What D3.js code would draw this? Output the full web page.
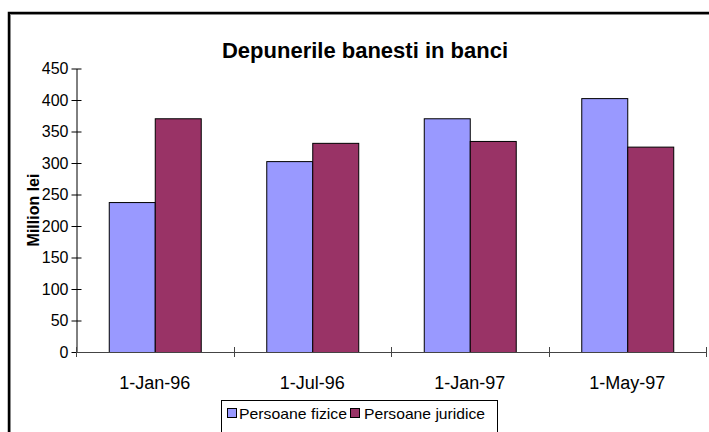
<!DOCTYPE html>
<html><head><meta charset="utf-8">
<script src="https://cdn.jsdelivr.net/npm/d3@7"></script>
<style>body{margin:0;background:#fff}svg{display:block;font-family:Arial,"Liberation Sans",sans-serif}</style>
</head><body>
<svg id="c" width="709" height="432"></svg>
<script>
const categories = ["1-Jan-96","1-Jul-96","1-Jan-97","1-May-97"];
const seriesNames = ["Persoane fizice","Persoane juridice"];
const fizice = [238, 303, 371, 403];
const juridice = [371, 332, 335, 326];
const yTicks = [0,50,100,150,200,250,300,350,400,450];
const colors = ["#9999ff","#993366"];

const svg = d3.select("#c");
// frame
svg.append("path").attr("d","M9,440 V13 H720").attr("fill","none").attr("stroke","#000").attr("stroke-width",2.5);
svg.append("path").attr("d","M10.5,440 V14.5 H720").attr("fill","none").attr("stroke","#888").attr("stroke-width",1);

const pLeft=76, pRight=706, pTop=68.5, pBottom=352;
const x = d3.scaleBand().domain(categories).range([pLeft,pRight]).paddingInner(0.416).paddingOuter(0.208);
const xs = d3.scaleBand().domain(seriesNames).range([0,x.bandwidth()]);
const y = d3.scaleLinear().domain([0,450]).range([pBottom,pTop]);

const data = categories.map((c,i)=>({c, v:[fizice[i], juridice[i]]}));
const g = svg.append("g");
data.forEach(d=>{
  seriesNames.forEach((s,j)=>{
    g.append("rect")
      .attr("x", x(d.c)+xs(s)+0.5)
      .attr("y", y(d.v[j])+0.5)
      .attr("width", xs.bandwidth())
      .attr("height", y(0)-y(d.v[j]))
      .attr("fill", colors[j]).attr("stroke","#000").attr("stroke-width",1);
  });
});

// y axis
const ya = svg.append("g").attr("transform",`translate(${pLeft+0.5},0)`)
  .call(d3.axisLeft(y).tickValues(yTicks).tickSize(5).tickSizeOuter(0).tickPadding(3));
ya.select(".domain").attr("stroke","#000");
ya.selectAll(".tick line").attr("x1",-5).attr("x2",5).attr("stroke","#000");
ya.selectAll(".tick text").attr("font-size",16).attr("font-family","Arial, 'Liberation Sans', sans-serif").attr("fill","#000");

// x axis
const step = x.step();
const xb = [0,1,2,3,4].map(i=>pLeft+i*step);
svg.append("line").attr("x1",pLeft).attr("x2",pRight).attr("y1",pBottom+0.5).attr("y2",pBottom+0.5).attr("stroke","#444");
svg.selectAll(".xt").data(xb).enter().append("line")
  .attr("x1",d=>Math.round(d)+0.5).attr("x2",d=>Math.round(d)+0.5)
  .attr("y1",pBottom-5).attr("y2",pBottom+5).attr("stroke","#444");
svg.selectAll(".xl").data(categories).enter().append("text")
  .attr("x",d=>x(d)+x.bandwidth()/2).attr("y",pBottom+37)
  .attr("text-anchor","middle").attr("font-size",18).text(d=>d);

// title
svg.append("text").attr("x",365).attr("y",58).attr("text-anchor","middle")
  .attr("font-size",22).attr("font-weight","bold").text("Depunerile banesti in banci");
// y label
svg.append("text").attr("transform","translate(39,210) rotate(-90)").attr("text-anchor","middle")
  .attr("font-size",16).attr("font-weight","bold").text("Million lei");

// legend
const lg = svg.append("g");
lg.append("rect").attr("x",221.5).attr("y",400.5).attr("width",276).attr("height",40).attr("fill","#fff").attr("stroke","#000");
const items = [{n:seriesNames[0],sx:227,tx:239,w:108},{n:seriesNames[1],sx:350,tx:364,w:121}];
items.forEach((it,j)=>{
  lg.append("rect").attr("x",it.sx+0.5).attr("y",408.5).attr("width",9).attr("height",9).attr("fill",colors[j]).attr("stroke","#000");
  lg.append("text").attr("x",it.tx).attr("y",418.5).attr("font-size",15)
    .attr("textLength",it.w).attr("lengthAdjust","spacingAndGlyphs").text(it.n);
});
</script>
</body></html>
